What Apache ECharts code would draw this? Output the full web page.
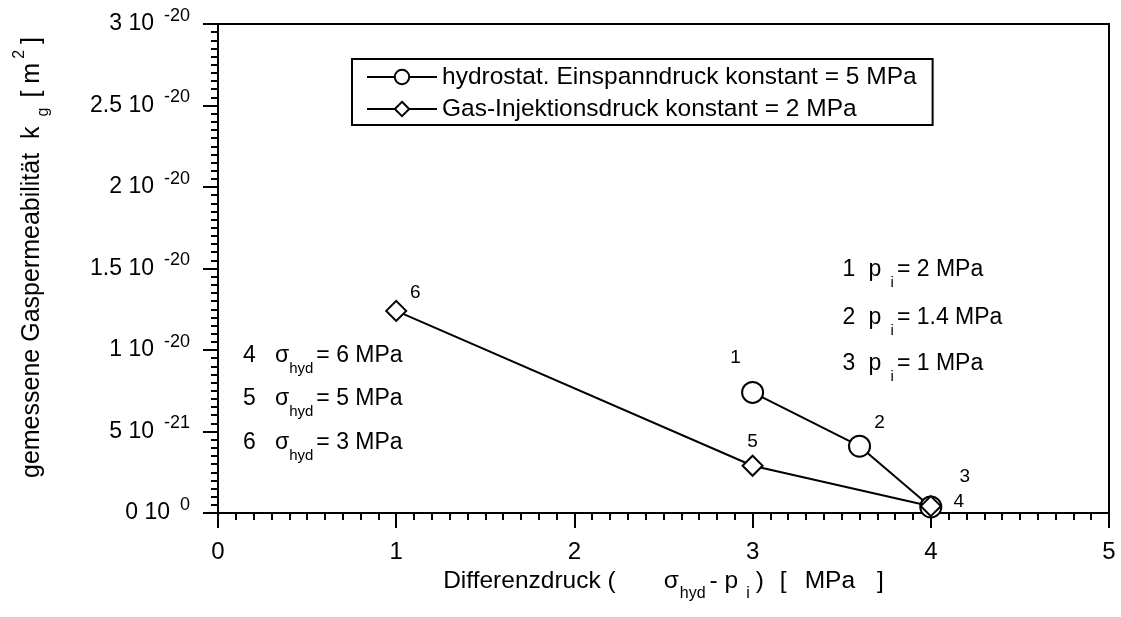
<!DOCTYPE html>
<html>
<head>
<meta charset="utf-8">
<script src="https://cdn.jsdelivr.net/npm/echarts@6/dist/echarts.min.js"></script>
<style>
  html, body { margin: 0; padding: 0; background: #fff; }
  #chart { width: 1121px; height: 617px; }
</style>
</head>
<body>
<div id="chart"></div>
<script>
// Measured gas permeability k_g vs. differential pressure (sigma_hyd - p_i).
// Permeability values are given in units of 1e-20 m^2.
const hydroX = [3.0, 3.6, 4.0];
const hydroKg = [0.74, 0.41, 0.037];
const hydroIds = ['1', '2', '3'];

const gasX = [1.0, 3.0, 4.0];
const gasKg = [1.24, 0.29, 0.042];
const gasIds = ['6', '5', '4'];

const seriesNames = [
  'hydrostat. Einspanndruck konstant = 5 MPa',
  'Gas-Injektionsdruck konstant = 2 MPa'
];

const yTickMantissa = ['0', '5', '1', '1.5', '2', '2.5', '3'];
const yTickExponent = ['0', '-21', '-20', '-20', '-20', '-20', '-20'];
const xTickLabels = ['0', '1', '2', '3', '4', '5'];

const sigmaIds = ['4', '5', '6'];
const sigmaValues = ['6', '5', '3'];
const piIds = ['1', '2', '3'];
const piValues = ['2', '1.4', '1'];

const FONT = '"Liberation Sans", Arial, Helvetica, sans-serif';
const Y_STEP = 0.5;

const chart = echarts.init(document.getElementById('chart'), null, { renderer: 'canvas' });

// label offsets for the numbered points (px relative to symbol centre)
const hydroOffsets = [[-17, -35], [20, -23], [34, -30]];
const gasOffsets = [[19, -18], [0, -24], [28, -4]];

function pointData(xs, ys, ids, offsets) {
  return xs.map((x, i) => ({
    value: [x, ys[i]],
    label: { show: true, formatter: ids[i], position: 'inside', offset: offsets[i] }
  }));
}

const txt = (size, extra) => Object.assign({ fontSize: size, fontFamily: FONT, color: '#000' }, extra || {});

// zrender-level rich styles for the explanatory note blocks
const zt = (size, extra) => Object.assign({ fontSize: size, fontFamily: FONT, fill: '#000' }, extra || {});
const noteRich = {
  t: zt(23, { lineHeight: 40, padding: [0, 0, 0, 3] }),
  s: zt(23, { lineHeight: 40 }),
  sub: zt(15, { lineHeight: 12, verticalAlign: 'bottom' }),
  n: zt(23, { lineHeight: 40, width: 32 }),
  n2: zt(23, { lineHeight: 40, width: 26 }),
  pp: zt(23, { lineHeight: 40, width: 22 })
};

const sigmaTexts = sigmaIds.map((id, i) => '{n|' + id + '}{s|σ}{sub|hyd}{t|= ' + sigmaValues[i] + ' MPa}');
const piTexts = piIds.map((id, i) => '{n2|' + id + '}{pp|p}{sub|i}{t|= ' + piValues[i] + ' MPa}');

// anchors (data coordinates) for the two explanatory text blocks
const sigmaAnchors = [[0.14, 0.963], [0.14, 0.70], [0.14, 0.43]];
const piAnchors = [[3.505, 1.49], [3.505, 1.196], [3.505, 0.914]];

function noteSeries(anchors, texts) {
  return {
    type: 'custom', silent: true, z: 5,
    data: anchors,
    renderItem: (params, api) => {
      const pt = api.coord([api.value(0), api.value(1)]);
      return {
        type: 'text', x: pt[0], y: pt[1],
        style: {
          text: texts[params.dataIndex], rich: noteRich,
          fontSize: 23, fontFamily: FONT, fill: '#000',
          align: 'left', verticalAlign: 'middle'
        }
      };
    }
  };
}

const option = {
  animation: false,
  backgroundColor: '#fff',
  textStyle: { fontFamily: FONT, color: '#000' },
  grid: {
    left: 218, right: 12, top: 24, bottom: 104,
    show: true, borderColor: '#000', borderWidth: 2, backgroundColor: 'transparent'
  },
  legend: {
    left: 352, top: 59,
    orient: 'vertical',
    data: seriesNames,
    itemWidth: 70, itemHeight: 18, itemGap: 6,
    padding: [5, 16, 3, 14],
    borderColor: '#000', borderWidth: 2, backgroundColor: '#fff',
    textStyle: { fontSize: 24.5, fontFamily: FONT, color: '#000', lineHeight: 26 },
    selectedMode: false
  },
  xAxis: {
    type: 'value', min: 0, max: 5, interval: 1,
    name: '{t|Differenzdruck (}{s|σ}{sub|hyd}{t|- p}{subi|i}{t|)}{b1|[}{m|MPa}{t|]}',
    nameLocation: 'middle', nameGap: 44,
    nameTextStyle: {
      rich: {
        t: txt(24.5, { lineHeight: 40 }),
        s: txt(24.5, { lineHeight: 40, padding: [0, 0, 0, 48] }),
        sub: txt(16, { lineHeight: 12, verticalAlign: 'bottom', padding: [0, 4, 0, 1] }),
        subi: txt(16, { lineHeight: 12, verticalAlign: 'bottom', padding: [0, 6, 0, 8] }),
        b1: txt(24.5, { lineHeight: 40, padding: [0, 0, 0, 16] }),
        m: txt(24.5, { lineHeight: 40, padding: [0, 22, 0, 18] })
      }
    },
    axisLine: { show: true, onZero: false, lineStyle: { color: '#000', width: 2 } },
    axisTick: { show: true, length: 15, lineStyle: { color: '#000', width: 2 } },
    minorTick: { show: true, splitNumber: 10, length: 7, lineStyle: { color: '#000', width: 2 } },
    axisLabel: {
      fontSize: 24, fontFamily: FONT, color: '#000', margin: 27,
      formatter: v => xTickLabels[Math.round(v)]
    },
    splitLine: { show: false }
  },
  yAxis: {
    type: 'value', min: 0, max: 3, interval: Y_STEP,
    name: '{t|gemessene Gaspermeabilität  k}{sub|g}{t|[ m}{sup|2}{t|]}',
    nameLocation: 'middle', nameGap: 166, nameRotate: 90,
    nameTextStyle: {
      padding: [0, 0, 0, 22],
      rich: {
        t: txt(25, { lineHeight: 40 }),
        sub: txt(16, { lineHeight: 12, verticalAlign: 'bottom', padding: [0, 10, 0, 10] }),
        sup: txt(16, { lineHeight: 14, verticalAlign: 'top', padding: [0, 6, 0, 4] })
      }
    },
    axisLine: { show: true, onZero: false, lineStyle: { color: '#000', width: 2 } },
    axisTick: { show: true, length: 15, lineStyle: { color: '#000', width: 2 } },
    minorTick: { show: true, splitNumber: 10, length: 7, lineStyle: { color: '#000', width: 2 } },
    axisLabel: {
      margin: 28,
      formatter: v => {
        const i = Math.round(v / Y_STEP);
        return '{m|' + yTickMantissa[i] + ' 10}{e|' + yTickExponent[i] + '}';
      },
      rich: {
        m: txt(23, { lineHeight: 34 }),
        e: txt(18, { lineHeight: 20, verticalAlign: 'top', padding: [0, 0, 0, 10] })
      }
    },
    splitLine: { show: false }
  },
  series: [
    {
      name: seriesNames[0],
      type: 'line',
      data: pointData(hydroX, hydroKg, hydroIds, hydroOffsets),
      symbol: 'circle', symbolSize: 21,
      lineStyle: { color: '#000', width: 2 },
      itemStyle: { color: '#fff', borderColor: '#000', borderWidth: 2 },
      label: { fontSize: 19, fontFamily: FONT, color: '#000' },
      z: 3
    },
    {
      name: seriesNames[1],
      type: 'line',
      data: pointData(gasX, gasKg, gasIds, gasOffsets),
      symbol: 'diamond', symbolSize: [20, 20],
      lineStyle: { color: '#000', width: 2 },
      itemStyle: { color: '#fff', borderColor: '#000', borderWidth: 2 },
      label: { fontSize: 19, fontFamily: FONT, color: '#000' },
      z: 4
    },
    noteSeries(sigmaAnchors, sigmaTexts),
    noteSeries(piAnchors, piTexts)
  ]
};

chart.setOption(option);
</script>
</body>
</html>
